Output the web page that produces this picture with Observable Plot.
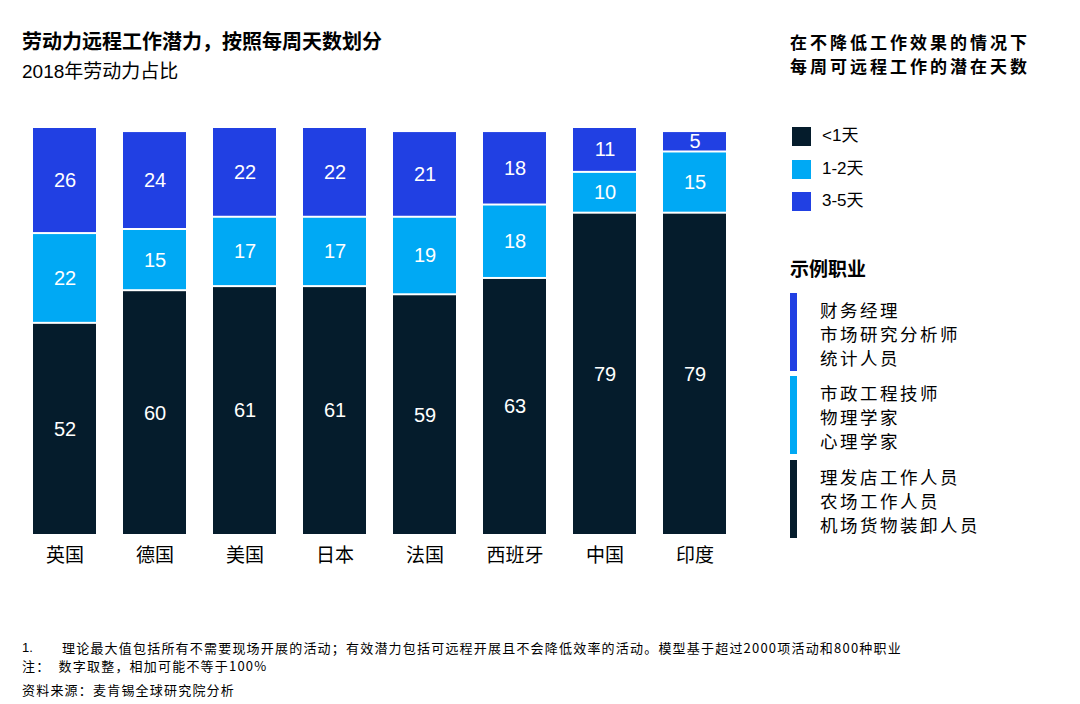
<!DOCTYPE html>
<html><head><meta charset="utf-8">
<script src="https://cdn.jsdelivr.net/npm/d3@7"></script>
<script src="https://cdn.jsdelivr.net/npm/@observablehq/plot@0.6"></script>
<style>
body{margin:0;background:#fff;}
#wrap{position:relative;width:1080px;height:704px;overflow:hidden;font-family:"Liberation Sans","Noto Sans CJK SC",sans-serif;color:#000;}
.abs{position:absolute;white-space:nowrap;}
#chart{position:absolute;left:0;top:100px;}
</style></head>
<body><div id="wrap"><div id="chart"></div></div>
<script>
const countries = ["英国","德国","美国","日本","法国","西班牙","中国","印度"];
const categories = ["<1天","1-2天","3-5天"];
const lt1 = [52,60,61,61,59,63,79,79];
const d12 = [22,15,17,17,19,18,10,15];
const d35 = [26,24,22,22,21,18,11,5];
const colors = ["#051c2c","#00a9f4","#2140e3"];
const occupations = [
  ["财务经理","市场研究分析师","统计人员"],
  ["市政工程技师","物理学家","心理学家"],
  ["理发店工作人员","农场工作人员","机场货物装卸人员"]
];
const occColors = ["#2140e3","#00a9f4","#051c2c"];

const series = [lt1,d12,d35];
const data = [];
countries.forEach((c,i)=>categories.forEach((k,j)=>data.push({country:c,cat:k,value:series[j][i]})));

const plot = Plot.plot({
  width:760, height:470,
  marginLeft:33, marginRight:34, marginTop:27, marginBottom:35,
  style:{fontFamily:'"Noto Sans CJK SC",sans-serif',background:"transparent"},
  x:{domain:countries, paddingInner:0.3, paddingOuter:0, label:null},
  y:{domain:[0,100], axis:null},
  color:{domain:categories, range:colors},
  marks:[
    Plot.barY(data,{x:"country",y:"value",fill:"cat",order:categories,insetTop:1,insetBottom:1}),
    Plot.text(data,Plot.stackY({x:"country",y:"value",z:"cat",order:categories,text:d=>String(d.value),fill:"white",fontSize:20,fontFamily:'"Liberation Sans",sans-serif'})),
    Plot.axisX({tickSize:0,tickPadding:13,fontSize:19,fill:"#000",label:null})
  ]
});
document.getElementById("chart").appendChild(plot);

const wrap = document.getElementById("wrap");
function add(html, css){const d=document.createElement("div");d.className="abs";d.innerHTML=html;d.style.cssText+=css;wrap.appendChild(d);return d;}

add("劳动力远程工作潜力，按照每周天数划分","left:22px;top:29px;font-size:20px;line-height:24px;font-weight:bold;font-family:'Noto Sans CJK SC';");
add("2018年劳动力占比","left:22px;top:60px;font-size:19px;line-height:24px;font-family:'Liberation Sans','Noto Sans CJK SC';");
add("在不降低工作效果的情况下","left:790px;top:30px;font-size:17px;letter-spacing:3px;line-height:24px;font-weight:bold;font-family:'Noto Sans CJK SC';");
add("每周可远程工作的潜在天数","left:790px;top:54px;font-size:17px;letter-spacing:3px;line-height:24px;font-weight:bold;font-family:'Noto Sans CJK SC';");

categories.forEach((k,i)=>{
  add("","left:792px;top:"+(127+i*32.5)+"px;width:19px;height:19px;background:"+colors[i]+";");
  add(k,"left:822px;top:"+(125+i*32.5)+"px;font-size:17px;line-height:22px;font-family:'Liberation Sans','Noto Sans CJK SC';");
});
add("示例职业","left:790px;top:256px;font-size:19px;line-height:24px;font-weight:bold;font-family:'Noto Sans CJK SC';");
const groupTops=[293,376,460];
occupations.forEach((g,i)=>{
  g.forEach((line,j)=>{
    add(line,"left:820px;top:"+(groupTops[i]+6+j*24)+"px;font-size:17.5px;letter-spacing:2.5px;line-height:22px;font-family:'Noto Sans CJK SC';");
  });
  add("","left:790px;top:"+groupTops[i]+"px;width:7px;height:78px;background:"+occColors[i]+";");
});

add("1.","left:22px;top:639px;font-size:13px;line-height:18px;");
add("理论最大值包括所有不需要现场开展的活动；有效潜力包括可远程开展且不会降低效率的活动。模型基于超过2000项活动和800种职业","left:62px;top:639px;font-size:13px;letter-spacing:1.2px;line-height:18px;font-family:'Noto Sans CJK SC';");
add("注：&nbsp;&nbsp;数字取整，相加可能不等于100%","left:22px;top:657px;font-size:13px;letter-spacing:1.2px;line-height:18px;font-family:'Noto Sans CJK SC';");
add("资料来源：麦肯锡全球研究院分析","left:22px;top:681px;font-size:13px;letter-spacing:1.2px;line-height:18px;font-family:'Noto Sans CJK SC';");
</script></body></html>
